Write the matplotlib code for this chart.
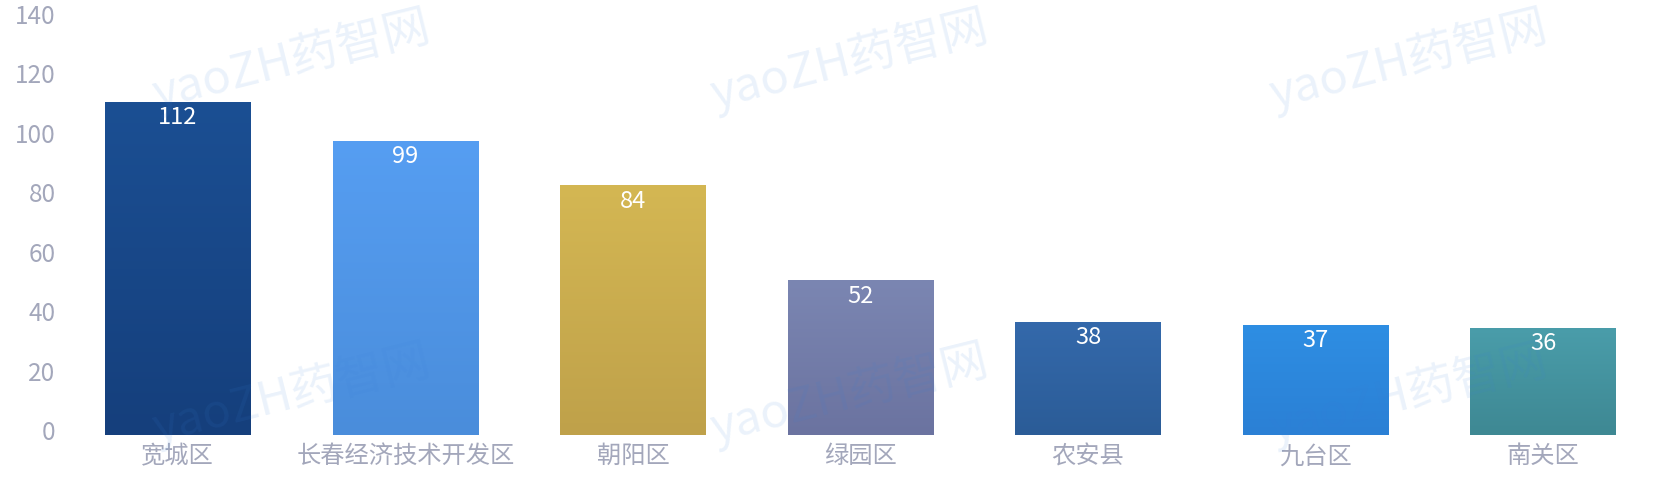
import numpy as np
import matplotlib.pyplot as plt
import matplotlib.transforms as mtransforms
from matplotlib.colors import LinearSegmentedColormap

plt.rcParams['font.family'] = ['Noto Sans CJK SC', 'DejaVu Sans']

# data
districts = ['宽城区', '长春经济技术开发区', '朝阳区', '绿园区', '农安县', '九台区', '南关区']
counts = [112, 99, 84, 52, 38, 37, 36]
yticks = [0, 20, 40, 60, 80, 100, 120, 140]

# gradient colours, top -> bottom
top_colors = ['#1b4f93', '#569ef2', '#d4b753', '#7b86b2', '#3469ab', '#2e8ee3', '#4a9daa']
bottom_colors = ['#153f7c', '#4a8ddb', '#bfa14a', '#6b73a0', '#2b5c97', '#2b80d5', '#3e8893']

label_color = '#a3a7bb'

fig = plt.figure(figsize=(16.66, 4.98), dpi=100)
ax = fig.add_axes([0.0384, 0.1265, 0.9562, 0.8355])

x = np.arange(len(districts))
bars = ax.bar(x, counts, width=0.64, color='none', edgecolor='none', zorder=2)

# gradient fill for every bar, clipped to the bar patch
grad = np.linspace(0, 1, 256).reshape(-1, 1)
for b, c0, c1 in zip(bars, top_colors, bottom_colors):
    cmap = LinearSegmentedColormap.from_list('g', [c1, c0])
    bx, by = b.get_x(), b.get_y()
    w, h = b.get_width(), b.get_height()
    im = ax.imshow(grad, cmap=cmap, aspect='auto', origin='lower',
                   extent=(bx, bx + w, by, by + h), zorder=2)
    im.set_clip_path(b)

# value labels inside the top of each bar
for xi, v in zip(x, counts):
    ax.annotate(str(v), (xi, v), xytext=(0, -3), textcoords='offset points',
                ha='center', va='top', color='white', fontsize=17,
                fontweight='light', zorder=4)

ax.set_xlim(-0.5, len(districts) - 0.5)
ax.set_ylim(0, 140)
ax.set_yticks(yticks)
ax.set_xticks(x)
ax.set_xticklabels(districts)
ax.tick_params(axis='both', length=0, colors=label_color, labelsize=17.5)
ax.tick_params(axis='y', pad=6)
ax.tick_params(axis='x', pad=6)
for lab in ax.get_yticklabels() + ax.get_xticklabels():
    lab.set_fontweight('light')
for lab in ax.get_yticklabels():
    lab.set_transform(lab.get_transform() + mtransforms.ScaledTranslation(0, 5 / 100, fig.dpi_scale_trans))
for s in ax.spines.values():
    s.set_visible(False)

# watermark
wm_pos = [(0.175, 0.88), (0.51, 0.88), (0.845, 0.88), (0.175, 0.21), (0.51, 0.21), (0.845, 0.21)]
for px, py in wm_pos:
    fig.text(px, py, 'yaoZH药智网', color='#3a80d8', alpha=0.1, fontsize=34,
             rotation=14, ha='center', va='center', zorder=5)

fig.savefig('out.png', dpi=100)
